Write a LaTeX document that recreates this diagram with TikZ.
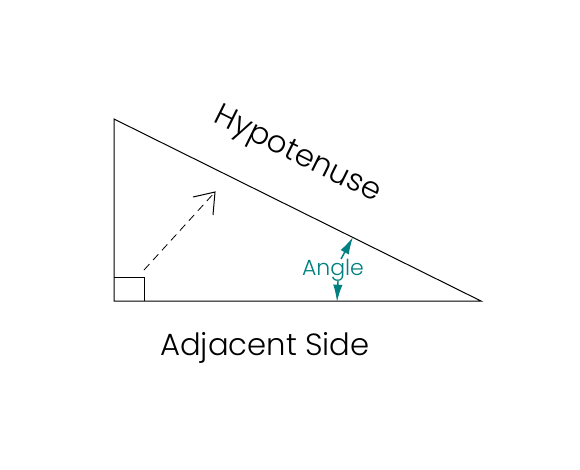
\documentclass[tikz,border=0pt]{standalone}
\usepackage{fontspec}
\setmainfont{Poppins}[UprightFont=* Light]
\usetikzlibrary{arrows.meta}
\definecolor{tealc}{RGB}{0,128,128}
\tikzset{
  side/.style={black, line width=0.75pt},
  lbl/.style={inner sep=0pt, font=\fontsize{23}{26}\selectfont},
  angarrow/.style={tealc, line width=1.1pt, -{Latex[length=13pt,width=7pt]}},
}
\begin{document}
\begin{tikzpicture}[x=0.75pt,y=-0.75pt]
\useasboundingbox (0,0) rectangle (580,469);
\coordinate (A) at (114,119);
\coordinate (B) at (114,301);
\coordinate (C) at (481,301);
\draw[side] (A) -- (B) -- (C) -- cycle;
\draw[side] (114,277) -| (144,301);
\coordinate (d0) at (144,270);
\coordinate (d1) at (215,192);
\draw[line width=0.6pt, dash pattern=on 6pt off 4pt] (d0) -- (d1);
\draw[line width=0.75pt] (193,197) -- (d1) -- (213,215);
\node[lbl, rotate=-26.4] (hyp) at (297,156) {Hypotenuse};
\node[lbl] (adj) at (265,348) {Adjacent Side};
\node[inner sep=0pt, text=tealc, font=\fontsize{16.5}{19}\selectfont] (ang) at (333,270) {Angle};
\coordinate (u0) at (341,259);
\coordinate (u1) at (353,237);
\coordinate (l0) at (338,281);
\coordinate (l1) at (337,302);
\draw[angarrow] (u0) -- (u1);
\draw[angarrow] (l0) -- (l1);
\end{tikzpicture}
\end{document}
